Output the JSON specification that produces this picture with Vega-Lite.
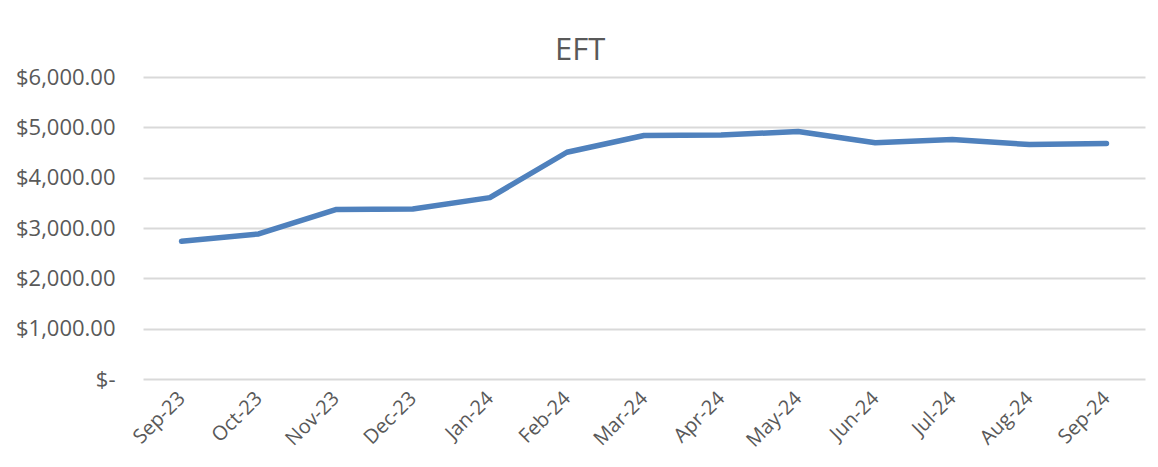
{
  "$schema": "https://vega.github.io/schema/vega-lite/v6.json",
  "autosize": "none",
  "width": 1002,
  "height": 302,
  "padding": {"left": 143, "top": 77, "right": 13, "bottom": 88},
  "background": "white",
  "title": {
    "text": "EFT",
    "font": "Open Sans",
    "fontSize": 31,
    "fontWeight": "normal",
    "color": "#595959",
    "anchor": "middle",
    "frame": "bounds",
    "offset": -1
  },
  "data": {
    "values": [
      {"month": "Sep-23", "amount": 2736},
      {"month": "Oct-23", "amount": 2883},
      {"month": "Nov-23", "amount": 3366},
      {"month": "Dec-23", "amount": 3376},
      {"month": "Jan-24", "amount": 3604},
      {"month": "Feb-24", "amount": 4505},
      {"month": "Mar-24", "amount": 4837},
      {"month": "Apr-24", "amount": 4847},
      {"month": "May-24", "amount": 4916},
      {"month": "Jun-24", "amount": 4692},
      {"month": "Jul-24", "amount": 4757},
      {"month": "Aug-24", "amount": 4658},
      {"month": "Sep-24", "amount": 4678}
    ]
  },
  "mark": {"type": "line", "color": "#4F81BD", "strokeWidth": 5.5, "strokeCap": "round", "strokeJoin": "round"},
  "encoding": {
    "x": {
      "field": "month",
      "type": "ordinal",
      "sort": null,
      "scale": {"type": "point", "padding": 0.5},
      "axis": {
        "title": null,
        "labelAngle": -45,
        "labelAlign": "right",
        "labelBaseline": "middle",
        "labelFont": "Open Sans",
        "labelFontSize": 20,
        "labelColor": "#595959",
        "labelPadding": 16,
        "ticks": false,
        "domain": false,
        "grid": false
      }
    },
    "y": {
      "field": "amount",
      "type": "quantitative",
      "scale": {"domain": [0, 6000], "nice": false},
      "axis": {
        "title": null,
        "values": [0, 1000, 2000, 3000, 4000, 5000, 6000],
        "labelExpr": "datum.value == 0 ? '$-\u2007' : format(datum.value, '$,.2f')",
        "labelFont": "Open Sans",
        "labelFontSize": 22,
        "labelColor": "#595959",
        "labelPadding": 28,
        "ticks": false,
        "domain": false,
        "grid": true,
        "gridColor": "#D9D9D9",
        "gridWidth": 2
      }
    }
  },
  "config": {"view": {"stroke": null}}
}
